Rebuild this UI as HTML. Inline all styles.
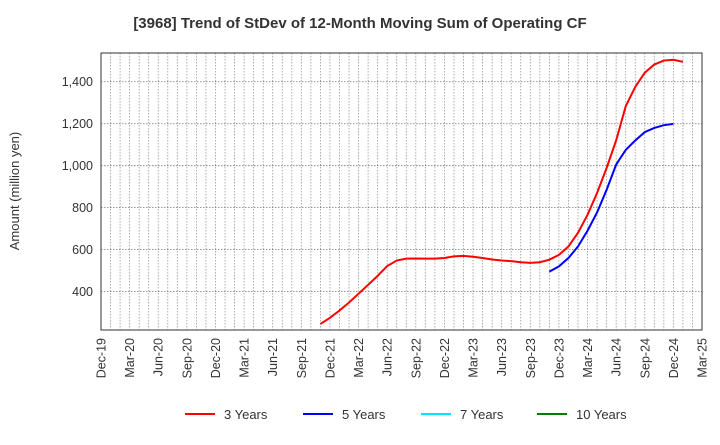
<!DOCTYPE html>
<html><head><meta charset="utf-8"><style>
body{margin:0;background:#fff;font-family:"Liberation Sans",sans-serif;}
svg text{font-family:"Liberation Sans",sans-serif;}
</style></head><body>
<svg id="c" width="720" height="440" xmlns="http://www.w3.org/2000/svg"></svg>
<script>
const yTicks = [400,600,800,1000,1200,1400];
const xTickLabels = ["Dec-19","Mar-20","Jun-20","Sep-20","Dec-20","Mar-21","Jun-21","Sep-21","Dec-21","Mar-22","Jun-22","Sep-22","Dec-22","Mar-23","Jun-23","Sep-23","Dec-23","Mar-24","Jun-24","Sep-24","Dec-24","Mar-25"];
const red3Start = 23;
const red3 = [246,275,310,348,390,432,475,522,548,557,558,557,557,560,568,570,566,560,553,548,545,540,537,540,552,575,615,680,766,870,989,1120,1283,1375,1443,1482,1501,1505,1495];
const blue5Start = 47;
const blue5 = [495,520,560,615,690,777,885,1005,1075,1120,1160,1180,1193,1199];
const legendNames = ["3 Years","5 Years","7 Years","10 Years"];
const legendColors = ["#ff0000","#0000ff","#00e5ff","#008000"];

const svg=document.getElementById('c');
const NS="http://www.w3.org/2000/svg";
const L=101,R=702,T=53,B=330, yMin=217, yMax=1537, mMax=63;
const xs=m=>L+(R-L)*m/mMax;
const ys=v=>B-(B-T)*(v-yMin)/(yMax-yMin);
function el(t,a,p){const e=document.createElementNS(NS,t);for(const k in a)e.setAttribute(k,a[k]);(p||svg).appendChild(e);return e;}

const title=el('text',{x:360,y:28,'text-anchor':'middle','font-size':'15','font-weight':'bold',fill:'#333'});


title.textContent="[3968]  Trend of StDev of 12-Month Moving Sum of Operating CF";

const grid=el('g',{});


for(let m=1;m<mMax;m++){el('line',{x1:xs(m),x2:xs(m),y1:T,y2:B,stroke:'#999','stroke-width':0.8,'stroke-dasharray':'1.5,1.5'},grid);}
yTicks.forEach(v=>{el('line',{x1:L,x2:R,y1:ys(v),y2:ys(v),stroke:'#777','stroke-width':0.8,'stroke-dasharray':'1.5,1.5'},grid);});

const yAx=el('g',{});


yTicks.forEach(v=>{const t=el('text',{x:L-8,y:ys(v)+4.5,'text-anchor':'end','font-size':'12.5',fill:'#333'},yAx);t.textContent=v.toLocaleString('en-US');});
const yt=el('text',{x:19,y:191,'text-anchor':'middle','font-size':'13',fill:'#333',transform:'rotate(-90 19 191)'});


yt.textContent="Amount (million yen)";

const xAx=el('g',{});


xTickLabels.forEach((s,i)=>{const x=xs(i*3)+4.5,y=B+8;const t=el('text',{x:x,y:y,'text-anchor':'end','font-size':'12.5',fill:'#333',transform:`rotate(-90 ${x} ${y})`},xAx);t.textContent=s;});

el('rect',{x:L,y:T,width:R-L,height:B-T,fill:'none',stroke:'#333','stroke-width':1});

function series(data,start,color,name){
  const p=el('polyline',{points:data.map((v,i)=>xs(start+i)+','+ys(v)).join(' '),fill:'none',stroke:color,'stroke-width':2});
  
  
}
series(red3,red3Start,'#ff0000','line-3-years');
series(blue5,blue5Start,'#0000ff','line-5-years');

const lx=[185,303,421,537];
legendNames.forEach((n,i)=>{
  const g=el('g',{});
  
  
  el('line',{x1:lx[i],x2:lx[i]+30,y1:414,y2:414,stroke:legendColors[i],'stroke-width':2},g);
  const t=el('text',{x:lx[i]+39,y:419,'font-size':'13',fill:'#333'},g);t.textContent=n;
});
</script>
</body></html>
